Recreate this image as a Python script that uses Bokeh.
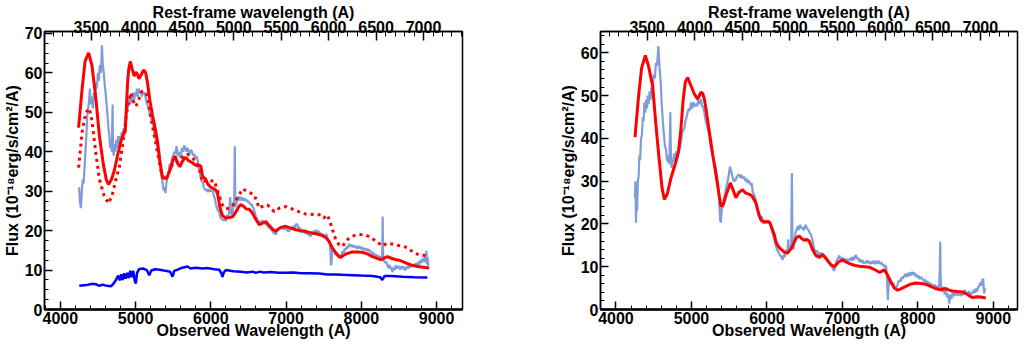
from bokeh.plotting import figure
from bokeh.models import Range1d, LinearAxis, SingleIntervalTicker
from bokeh.layouts import row
from bokeh.embed import file_html
from bokeh.resources import INLINE

# ---------------- data: left panel ----------------
obs_wave_l = [4250, 4262, 4274, 4286, 4298, 4310, 4322, 4334, 4346, 4358, 4370, 4382, 4393, 4405, 4420, 4432, 4445, 4458, 4473, 4485,
              4500, 4512, 4525, 4540, 4553, 4565, 4578, 4590, 4602, 4615, 4628, 4640, 4652, 4664, 4672, 4684, 4695, 4700, 4710, 4720,
              4732, 4745, 4758, 4770, 4782, 4795, 4805, 4818, 4830, 4842, 4856, 4868, 4880, 4894, 4906, 4918, 4930, 4943, 4955, 4968,
              4980, 4993, 5005, 5018, 5030, 5043, 5056, 5070, 5083, 5096, 5110, 5125, 5140, 5155, 5170, 5185, 5200, 5215, 5226, 5240,
              5255, 5270, 5285, 5300, 5315, 5330, 5345, 5360, 5372, 5385, 5398, 5410, 5425, 5440, 5455, 5470, 5485, 5500, 5515, 5530,
              5545, 5560, 5575, 5590, 5603, 5618, 5632, 5646, 5660, 5675, 5690, 5705, 5720, 5735, 5750, 5765, 5780, 5795, 5810, 5823,
              5838, 5852, 5866, 5880, 5893, 5905, 5920, 5935, 5950, 5965, 5980, 5995, 6010, 6023, 6040, 6055, 6070, 6085, 6100, 6111,
              6125, 6140, 6155, 6170, 6185, 6200, 6215, 6230, 6245, 6258, 6270, 6280, 6290, 6300, 6312, 6319, 6326, 6336, 6350, 6365,
              6377, 6390, 6405, 6420, 6435, 6450, 6465, 6480, 6495, 6510, 6525, 6540, 6555, 6570, 6585, 6600, 6615, 6630, 6643, 6658,
              6672, 6688, 6703, 6718, 6733, 6748, 6763, 6778, 6793, 6808, 6823, 6838, 6853, 6863, 6878, 6893, 6908, 6923, 6938, 6952,
              6967, 6982, 6997, 7011, 7026, 7041, 7056, 7071, 7086, 7101, 7116, 7131, 7151, 7166, 7181, 7196, 7211, 7226, 7241, 7256,
              7271, 7286, 7301, 7316, 7328, 7343, 7358, 7373, 7388, 7403, 7418, 7433, 7448, 7463, 7478, 7493, 7508, 7520, 7535, 7550,
              7565, 7580, 7590, 7598, 7606, 7614, 7630, 7645, 7660, 7675, 7690, 7705, 7720, 7735, 7750, 7765, 7780, 7795, 7810, 7825,
              7838, 7853, 7868, 7883, 7898, 7913, 7926, 7941, 7956, 7971, 7986, 8001, 8015, 8030, 8045, 8060, 8075, 8090, 8103, 8118,
              8133, 8148, 8163, 8178, 8193, 8208, 8220, 8235, 8250, 8265, 8278, 8284, 8290, 8300, 8315, 8330, 8347, 8360, 8375, 8390,
              8405, 8413, 8428, 8443, 8458, 8473, 8488, 8502, 8517, 8532, 8547, 8562, 8577, 8590, 8605, 8620, 8635, 8650, 8665, 8679,
              8694, 8709, 8724, 8739, 8754, 8768, 8783, 8798, 8813, 8826, 8834, 8845, 8855, 8865, 8872, 8882, 8890]
obs_flux_l = [31, 27, 25.7, 30, 33, 32, 36, 40, 44, 49, 51, 53, 56, 52, 54, 51, 55, 53, 57.5, 56,
              60, 58, 62, 60, 67, 62, 60, 57, 55, 52, 49, 46, 44, 41, 43, 40, 52, 41, 39, 42,
              40, 43, 41, 44, 42, 44, 43, 45, 44, 46, 45, 48, 50, 51, 52, 54, 52, 54, 53, 55,
              53, 55, 54, 56, 54, 56, 55, 55.5, 54, 55, 54.6, 55, 53, 52, 51, 50, 49, 48, 48.4, 46,
              44, 43, 42, 40, 40, 37, 34, 32, 30.2, 31, 29.5, 32, 33.5, 35, 37, 36, 38.5, 39, 40, 39.5,
              41.4, 39, 40, 38.5, 39, 41, 40, 41.6, 41, 40, 41, 40, 39.5, 40.5, 40, 39, 39.5, 38.5, 38.9, 38,
              36, 35, 33.5, 32.5, 32.3, 31, 30.5, 30.2, 30.5, 29.8, 30.5, 30, 30.2, 30.2, 29, 28, 26.5, 25.5, 25, 24.8,
              23.5, 23, 22.8, 22.6, 23, 22.4, 24, 23, 25, 28.5, 24.5, 24, 23.8, 26, 28, 41.4, 26, 26.5, 27.5, 28.5,
              28.5, 27.5, 28.5, 28, 27.6, 28.3, 27.5, 27.8, 27.3, 27.3, 26.5, 26.8, 26, 25.7, 24.5, 23.5, 23, 22.2, 21.9, 22.4,
              22, 22.6, 21.8, 22.2, 21.5, 21.6, 20.8, 21, 20.4, 20.2, 19.8, 19.3, 19.5, 19.0, 19.7, 20.2, 20.9, 20.5, 21, 20.7,
              20.3, 20.8, 20.2, 20.5, 19.8, 19.9, 20.4, 21, 20.3, 21.2, 20.6, 21.7, 21.5, 20.4, 20.9, 19.6, 20.3, 19.5, 19.9, 19.2,
              19.8, 18.9, 19.5, 18.7, 18.6, 19.6, 19.1, 20, 19.5, 20.2, 19.3, 19.9, 19.5, 18.8, 19.3, 18.7, 18.9, 18.4, 19.2, 18,
              17.6, 17.2, 14.5, 11.2, 12.4, 15.7, 15, 14.5, 13.8, 14.3, 13.4, 13.2, 13.8, 13.5, 14.8, 14.3, 15.4, 15.2, 16, 15.6,
              16.6, 16, 16.4, 15.8, 16.3, 15.7, 16.1, 15.4, 16.1, 15.5, 16, 15.3, 15.7, 15.1, 15.6, 14.9, 15.4, 14.8, 15.3, 14.5,
              14.8, 14, 14.4, 13.6, 14, 13.4, 13.7, 13.2, 13.5, 12.8, 13.4, 23.6, 13, 12.5, 11.8, 12.2, 11.2, 10.5, 11.3, 10.2,
              10.8, 9.5, 10.6, 10, 11.2, 10.4, 11, 10.8, 10.1, 11, 10.3, 10.9, 10, 10.2, 11, 10.3, 11.3, 10.6, 11.4, 10.8,
              11.5, 10.9, 11.8, 11.1, 12, 11.2, 12.5, 11.8, 12.9, 12.1, 12.4, 13.5, 12, 14.9, 11.5, 13.2, 11]

fit_wave_l = [4243, 4290, 4330, 4376, 4420, 4470, 4520, 4570, 4610, 4641, 4680, 4717, 4760, 4805, 4840, 4863, 4880, 4894, 4910, 4930,
              4955, 4983, 5005, 5027, 5045, 5075, 5100, 5115, 5135, 5159, 5190, 5226, 5260, 5292, 5320, 5358, 5380, 5403, 5425, 5460,
              5500, 5527, 5555, 5589, 5620, 5650, 5668, 5700, 5757, 5790, 5823, 5850, 5867, 5890, 5934, 5960, 6000, 6023, 6060, 6089,
              6120, 6155, 6200, 6244, 6290, 6330, 6370, 6398, 6430, 6470, 6510, 6550, 6576, 6610, 6643, 6680, 6731, 6780, 6830, 6863,
              6930, 6996, 7050, 7120, 7180, 7240, 7300, 7395, 7460, 7527, 7570, 7616, 7660, 7700, 7726, 7760, 7800, 7882, 7950, 8015,
              8080, 8148, 8220, 8267, 8300, 8347, 8400, 8450, 8502, 8560, 8620, 8679, 8750, 8800, 8878, 8900]
fit_flux_l = [46.1, 56, 63, 65.1, 62, 54, 44, 37, 33, 31.7, 33, 35.2, 39, 42.6, 44.5, 45.1, 52, 57.5, 61, 62.9,
              61, 59.2, 60.2, 59.6, 58.5, 59.5, 60.5, 60.7, 60, 57.5, 53, 49.2, 46, 42.6, 38, 33.5, 33.2, 33.5, 33.8, 35.5,
              38, 38.9, 37.2, 36.2, 37.5, 38.3, 38.6, 37.8, 37.2, 36.7, 36.4, 36.6, 36.4, 33.8, 33, 31.8, 31, 30.8, 30.4, 29.5,
              26, 23.8, 23.2, 23.3, 23.5, 24.6, 26, 26.6, 26.3, 25.5, 25.4, 24.6, 23.6, 22.5, 21.5, 21.8, 22.3, 21.2, 20.2, 19.9,
              20.8, 21.1, 20.7, 20.3, 20, 19.9, 19.6, 19.2, 18.9, 18.3, 17.3, 15.6, 14.4, 13.5, 13.2, 13.7, 14.1, 14.6, 14.6, 14.5,
              14.1, 13.4, 12.9, 12.6, 13, 13.4, 13, 12.7, 12.5, 12.1, 11.6, 11.2, 10.9, 10.8, 10.6, 10.4]

fit2_wave_l = [4243, 4290, 4340, 4385, 4420, 4470, 4520, 4580, 4641, 4690, 4740, 4783, 4830, 4871, 4900, 4938, 4965, 5004, 5040, 5070,
               5093, 5130, 5159, 5200, 5250, 5300, 5340, 5381, 5420, 5460, 5500, 5550, 5600, 5650, 5690, 5750, 5801, 5850, 5890, 5950,
               6000, 6045, 6100, 6155, 6200, 6244, 6290, 6340, 6421, 6500, 6576, 6610, 6643, 6700, 6753, 6800, 6842, 6920, 6996, 7080,
               7170, 7262, 7380, 7461, 7500, 7550, 7580, 7617, 7660, 7705, 7750, 7820, 7900, 7971, 8050, 8104, 8200, 8280, 8340, 8413,
               8480, 8546, 8620, 8701, 8780, 8855, 8900]
fit2_flux_l = [36, 45, 50, 51, 48, 40, 33, 29, 26.9, 29, 33, 36, 42, 48.4, 52, 55, 53, 51.5, 53, 55,
               55.4, 55, 54.2, 49, 44, 39, 35, 32.7, 33.5, 35.5, 37.2, 37.5, 38.5, 38.8, 39.4, 38.6, 37.6, 35.5, 32.3, 32.8,
               32.6, 32.7, 29.5, 26.5, 25.5, 25.7, 26.4, 27.8, 30.6, 29.8, 29.1, 27.5, 25.7, 26.3, 26.5, 25.7, 24.8, 25.8, 26.1, 25.5,
               24.8, 24.2, 24.1, 24.0, 23.2, 24, 22.5, 20.2, 17.8, 16.4, 16, 17.8, 18.7, 19.0, 18.9, 18.5, 17.3, 16.1, 16.8, 16.6,
               16.3, 16.1, 15.6, 14.3, 13.8, 13.7, 13.3]

star_wave_l = [4252, 4350, 4420, 4473, 4520, 4560, 4620, 4672, 4700, 4740, 4770, 4790, 4810, 4830, 4850, 4870, 4890, 4910, 4930, 4950,
               4970, 4990, 5004, 5020, 5049, 5100, 5150, 5182, 5210, 5260, 5320, 5400, 5460, 5491, 5514, 5560, 5620, 5690, 5730, 5800,
               5890, 5950, 6050, 6111, 6140, 6155, 6175, 6200, 6300, 6400, 6480, 6554, 6600, 6650, 6700, 6800, 6900, 6996, 7100, 7200,
               7300, 7440, 7550, 7650, 7750, 7882, 8000, 8150, 8250, 8280, 8310, 8400, 8550, 8700, 8878]
star_flux_l = [6.0, 6.2, 6.5, 6.4, 6.0, 6.3, 6.0, 5.9, 6.4, 7.5, 8.6, 7.4, 8.9, 7.5, 9.2, 7.8, 9.3, 8.0, 9.8, 8.2,
               9.8, 7.2, 6.6, 9.3, 10.3, 10.4, 10.0, 8.7, 9.9, 10.2, 10.1, 9.8, 9.6, 8.3, 9.8, 10.1, 10.6, 10.9, 10.4, 10.6,
               10.4, 10.5, 10.2, 10.1, 9.2, 8.3, 9.5, 10.0, 9.7, 9.6, 9.4, 9.6, 9.3, 9.6, 9.4, 9.5, 9.3, 9.3, 9.4, 9.2,
               9.2, 9.1, 8.9, 8.9, 8.8, 8.7, 8.6, 8.5, 8.2, 7.5, 8.5, 8.5, 8.3, 8.2, 8.1]

# ---------------- data: right panel ----------------
obs_wave_r = [4250, 4258, 4265, 4272, 4280, 4290, 4300, 4310, 4320, 4332, 4344, 4356, 4366, 4376, 4388, 4400, 4410, 4420, 4432, 4445,
              4458, 4470, 4486, 4500, 4515, 4530, 4545, 4562, 4575, 4593, 4606, 4619, 4630, 4640, 4650, 4662, 4675, 4690, 4700, 4707,
              4714, 4720, 4726, 4737, 4750, 4760, 4773, 4785, 4800, 4815, 4830, 4845, 4861, 4875, 4890, 4906, 4920, 4935, 4950, 4965,
              4980, 4994, 5010, 5025, 5040, 5060, 5075, 5090, 5105, 5126, 5140, 5155, 5171, 5190, 5205, 5220, 5237, 5255, 5270, 5290,
              5310, 5325, 5340, 5355, 5369, 5380, 5390, 5404, 5418, 5430, 5445, 5460, 5479, 5495, 5510, 5525, 5545, 5560, 5580, 5600,
              5618, 5634, 5650, 5665, 5680, 5700, 5716, 5730, 5744, 5760, 5775, 5788, 5800, 5810, 5832, 5854, 5870, 5885, 5899, 5915,
              5930, 5943, 5960, 5975, 5990, 6005, 6020, 6032, 6050, 6065, 6080, 6098, 6115, 6130, 6145, 6164, 6180, 6195, 6208, 6222,
              6235, 6250, 6262, 6270, 6283, 6292, 6300, 6314, 6322, 6331, 6338, 6350, 6365, 6380, 6395, 6407, 6420, 6440, 6455, 6473,
              6490, 6505, 6517, 6530, 6550, 6570, 6583, 6600, 6615, 6630, 6649, 6665, 6680, 6695, 6710, 6725, 6738, 6755, 6770, 6785,
              6800, 6815, 6826, 6840, 6855, 6870, 6880, 6893, 6905, 6920, 6935, 6950, 6959, 6975, 6990, 7005, 7020, 7035, 7050, 7065,
              7080, 7091, 7110, 7125, 7140, 7155, 7168, 7179, 7195, 7210, 7225, 7240, 7255, 7270, 7285, 7300, 7311, 7325, 7340, 7355,
              7370, 7385, 7400, 7415, 7430, 7445, 7460, 7475, 7489, 7505, 7520, 7535, 7550, 7565, 7576, 7590, 7598, 7603, 7610, 7625,
              7642, 7660, 7675, 7690, 7709, 7725, 7740, 7755, 7770, 7785, 7800, 7820, 7835, 7850, 7865, 7880, 7895, 7910, 7925, 7940,
              7952, 7965, 7980, 7995, 8010, 8025, 8040, 8062, 8080, 8095, 8110, 8125, 8140, 8155, 8170, 8182, 8195, 8210, 8225, 8240,
              8255, 8270, 8282, 8290, 8296, 8302, 8310, 8325, 8340, 8355, 8370, 8385, 8400, 8416, 8430, 8445, 8460, 8475, 8490, 8505,
              8520, 8535, 8548, 8562, 8578, 8592, 8605, 8620, 8635, 8650, 8665, 8680, 8695, 8710, 8725, 8740, 8755, 8770, 8785, 8800,
              8813, 8825, 8840, 8855, 8866, 8872, 8880, 8890]
obs_flux_r = [26, 30, 20.3, 25, 23, 30, 31, 36, 35, 40, 40.7, 45, 44, 48.4, 46, 49, 47, 50, 48, 51,
              49, 52, 51, 55, 54, 57.7, 57, 61.6, 57, 53, 48, 44.6, 42, 40, 38, 37.7, 35, 34.6, 36, 34,
              40, 46.1, 38, 33.1, 35, 34.5, 36.5, 35, 37, 36, 38, 37.5, 39.2, 41, 42, 42.3, 44, 45, 46.1, 47,
              46.5, 48.4, 47, 48.5, 47.5, 48, 47.5, 49, 48, 49.2, 47.5, 47.5, 46.1, 44, 43, 42, 40.7, 38, 37, 35,
              34, 33, 31, 29, 25, 21, 20.3, 23.8, 24, 26, 27, 28.5, 30, 31.5, 33.4, 32.5, 31, 30, 30.1, 31,
              31.4, 31.5, 30.8, 31.4, 30.6, 31, 30, 30.6, 29.6, 30.2, 29.4, 29.2, 29.5, 27.6, 26.8, 25.5, 23.5, 22.5, 21.5, 21.2,
              21.8, 21.1, 20.4, 20.9, 20.2, 20.6, 20.1, 20.4, 19.5, 18.4, 17.5, 16.4, 15.2, 14.2, 13.6, 13, 12.5, 12.2, 11.6, 12.8,
              12.2, 13.3, 14, 13.5, 16.4, 13.8, 14.2, 14, 15, 31.9, 15.5, 14, 16, 18, 18.8, 19.5, 18.6, 19.8, 19, 19.1,
              18.5, 19.6, 19.7, 19, 18.6, 17.8, 17.6, 16.5, 15.2, 14, 13.4, 13.8, 12.7, 13.4, 12.5, 13.2, 13, 12.3, 12, 11.6,
              11.8, 10.9, 11, 10.4, 10.1, 9.8, 9.3, 9.1, 10.2, 11.3, 11.8, 12.3, 12.6, 11.7, 12.2, 11.4, 12, 11.3, 11.9, 11.2,
              11.7, 11.6, 12.1, 11.4, 12.3, 11.6, 12.4, 12.7, 11.8, 12.1, 11.2, 11.7, 10.9, 11.5, 10.7, 11.1, 10.9, 11.5, 10.8, 11.3,
              10.6, 11.2, 10.8, 11.4, 10.6, 11.3, 10.7, 11.4, 11, 10.6, 11, 10.2, 10.5, 9.8, 10.3, 8.5, 4, 2.2, 5, 7.5,
              6.8, 5.8, 6.2, 5.1, 4.9, 5.6, 6.3, 6.9, 6.5, 7.6, 7.2, 7.9, 8.3, 7.6, 8.5, 7.8, 8.7, 8, 8.8, 8.1,
              8.7, 7.8, 8.3, 7.4, 7.9, 7.1, 7.6, 7.2, 6.6, 7, 6.2, 6.7, 5.9, 6.3, 5.6, 6, 5.6, 5.2, 5.8, 5.1,
              5.5, 4.8, 5.3, 9, 15.9, 7, 5, 4.2, 5.3, 3.5, 4.6, 2.9, 3.7, 1.4, 3.4, 2.5, 4, 3.1, 4.3, 3.3,
              4.4, 3.2, 3.7, 4.5, 3.1, 4.2, 3.4, 4.6, 3.5, 4.1, 3.2, 4.3, 3.4, 3.9, 3.7, 4.6, 3.9, 4.9, 4.2, 5.4,
              5.3, 6.3, 5.6, 6.9, 7.2, 5, 3.8, 5]

fit_wave_r = [4252, 4300, 4340, 4389, 4430, 4486, 4530, 4575, 4610, 4641, 4680, 4728, 4795, 4830, 4861, 4890, 4920, 4950, 4990, 5038,
              5082, 5126, 5150, 5171, 5200, 5237, 5280, 5325, 5360, 5391, 5420, 5460, 5515, 5545, 5589, 5630, 5678, 5720, 5767, 5800,
              5854, 5890, 5921, 5960, 6010, 6040, 6075, 6098, 6120, 6150, 6185, 6230, 6274, 6330, 6390, 6429, 6460, 6495, 6530, 6561,
              6600, 6649, 6700, 6740, 6790, 6840, 6893, 6950, 7003, 7050, 7113, 7170, 7224, 7300, 7356, 7420, 7489, 7530, 7555, 7590,
              7642, 7690, 7731, 7780, 7841, 7900, 7974, 8040, 8106, 8170, 8238, 8300, 8371, 8420, 8459, 8520, 8592, 8650, 8700, 8725,
              8780, 8830, 8901]
fit_flux_r = [40.3, 50, 56.5, 59.4, 57, 52.3, 43, 34.6, 28.5, 25.7, 27, 30.7, 34.6, 37, 42.3, 49, 53.3, 54.2, 52.5, 50.4,
              49.2, 50.8, 50.5, 49.2, 46, 41.5, 36.5, 31.5, 27.5, 24.1, 24.5, 26.8, 29.6, 28.3, 26.1, 27.4, 28, 27.2, 26.9, 26.6,
              24.9, 22.5, 20.9, 20.4, 20.6, 20.3, 18.6, 17.5, 15.7, 14.8, 14.1, 13.4, 13.2, 14.5, 16.8, 17.2, 16.6, 16.2, 16.4, 16,
              14.2, 12.6, 12.2, 12.9, 11.8, 10.6, 10, 11.1, 11.6, 11.1, 10.6, 10.3, 10.1, 10.0, 9.9, 9.4, 8.7, 9.0, 9.3, 8.3,
              6.4, 5.0, 4.5, 4.9, 5.4, 5.9, 6.2, 6.1, 5.9, 5.4, 4.9, 4.6, 4.9, 4.5, 4.3, 4.2, 4.1, 3.6, 3.0, 2.8,
              3.0, 2.9, 2.7]

# ---------------- chart ----------------
ONE_PLUS_Z = 1.261
FONT = "Liberation Sans"
OBS_COLOR = "#7e9dd9"
RED = "#ff0000"
BLUE = "#0000ff"


def style_axis(ax):
    ax.major_label_text_font = FONT
    ax.major_label_text_font_style = "bold"
    ax.major_label_text_font_size = "16px"
    ax.major_label_text_color = "black"
    ax.axis_label_text_font = FONT
    ax.axis_label_text_font_style = "bold"
    ax.axis_label_text_font_size = "16px"
    ax.axis_label_text_color = "black"
    ax.major_tick_out = 0
    ax.minor_tick_out = 0
    ax.major_tick_in = 8
    ax.minor_tick_in = 4
    ax.major_tick_line_color = "black"
    ax.minor_tick_line_color = "black"
    ax.major_tick_line_width = 1.5
    ax.minor_tick_line_width = 1
    ax.axis_line_color = "black"
    ax.axis_line_width = 1.5
    ax.major_label_standoff = 2
    ax.axis_label_standoff = 1


def make_fig(width, bl, br, x0, x1, ymax, y_minor):
    p = figure(width=width, height=346, x_range=Range1d(x0, x1), y_range=Range1d(0, ymax),
               output_backend="svg", toolbar_location=None,
               min_border_left=bl, min_border_right=br, min_border_top=24, min_border_bottom=37)
    p.grid.visible = False
    p.outline_line_color = "black"
    p.outline_line_width = 1.5
    p.background_fill_color = "white"
    p.border_fill_color = "white"
    bottom = p.below[0]
    left = p.left[0]
    bottom.ticker = SingleIntervalTicker(interval=1000, num_minor_ticks=5)
    left.ticker = SingleIntervalTicker(interval=10, num_minor_ticks=y_minor)
    bottom.axis_label = "Observed Wavelength (A)"
    left.axis_label = "Flux (10\u207b\u00b9\u2078erg/s/cm\u00b2/A)"
    p.extra_x_ranges = {"rest": Range1d(x0 / ONE_PLUS_Z, x1 / ONE_PLUS_Z)}
    top = LinearAxis(x_range_name="rest", ticker=SingleIntervalTicker(interval=500, num_minor_ticks=5),
                     axis_label="Rest-frame wavelength (A)")
    p.add_layout(top, "above")
    for ax in [bottom, left, top]:
        style_axis(ax)
    bottom.axis_line_width = 2.5
    bottom.major_label_standoff = 2
    bottom.axis_label_standoff = -5
    top.major_label_standoff = -1
    top.axis_label_standoff = -3
    top.major_tick_in = 9
    top.minor_tick_in = 5
    return p


p1 = make_fig(540, 44, 78, 3790, 9345, 70.5, 4)
p1.line(obs_wave_l, obs_flux_l, line_color=OBS_COLOR, line_width=2.2)
p1.line(fit2_wave_l, fit2_flux_l, line_color=RED, line_width=3, line_dash="3 4")
p1.line(fit_wave_l, fit_flux_l, line_color=RED, line_width=3)
p1.line(star_wave_l, star_flux_l, line_color=BLUE, line_width=2.5)

p2 = make_fig(480, 60, 3, 3795, 9320, 65, 5)
p2.line(obs_wave_r, obs_flux_r, line_color=OBS_COLOR, line_width=2.2)
p2.line(fit_wave_r, fit_flux_r, line_color=RED, line_width=3)

layout = row(p1, p2)
open("out.html", "w").write(file_html(layout, INLINE))
